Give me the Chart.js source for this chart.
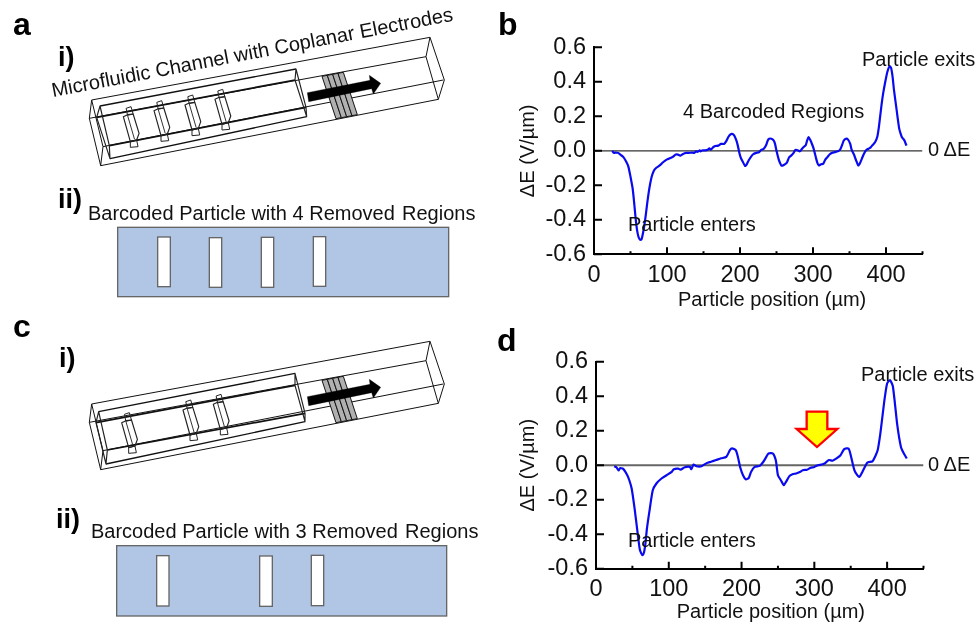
<!DOCTYPE html>
<html>
<head>
<meta charset="utf-8">
<title>Barcoded particle signals</title>
<script src="https://cdn.jsdelivr.net/npm/chart.js@4/dist/chart.umd.min.js"></script>
<style>
  html, body { margin: 0; padding: 0; background: #fff; }
  body { position: relative; width: 977px; height: 627px; overflow: hidden; }
  canvas { position: absolute; }
  #art { position: absolute; left: 0; top: 0; pointer-events: none; }
  #art text { font-family: "Liberation Sans", Arial, sans-serif; font-size: 20px; fill: #111; }
  #art text.big { font-size: 32px; font-weight: bold; fill: #000; }
  #art text.num { font-size: 27px; font-weight: bold; fill: #000; }
</style>
</head>
<body>
<canvas id="chartB" width="487" height="315" style="left:490px;top:0"></canvas>
<canvas id="chartD" width="487" height="312" style="left:490px;top:315px"></canvas>
<svg id="art" width="977" height="627" xmlns="http://www.w3.org/2000/svg"></svg>

<script>
// values
const xTicks = [0, 100, 200, 300, 400];
const yTicks = [-0.6, -0.4, -0.2, 0.0, 0.2, 0.4, 0.6];

const positionB = [25, 27, 30, 33, 37, 40, 44, 47, 50, 53, 55, 57, 59, 61, 63, 65, 67, 69, 71, 73, 75, 77, 79, 82, 85, 90, 95, 100, 103, 108, 112, 115, 118, 122, 126, 130, 134, 137, 140, 142, 145, 146, 148, 152, 156, 158, 160, 163, 166, 170, 174, 178, 181, 184, 187, 189, 192, 195, 197, 199, 201, 204, 207, 209, 212, 215, 218, 222, 226, 229, 232, 234, 236, 238, 240, 243, 246, 248, 250, 253, 255, 257, 260, 264, 267, 270, 273, 276, 279, 282, 285, 288, 290, 292, 294, 296, 299, 301, 304, 306, 308, 311, 314, 317, 320, 323, 326, 330, 334, 337, 340, 342, 345, 348, 351, 353, 356, 359, 362, 364, 367, 370, 373, 376, 379, 382, 385, 388, 390, 392, 394, 396, 399, 402, 405, 407, 409, 411, 414, 416, 418, 420, 422, 425, 428];
const fieldB = [0, -0.012, -0.01, -0.012, -0.025, -0.035, -0.062, -0.09, -0.15, -0.22, -0.3, -0.39, -0.46, -0.5, -0.515, -0.515, -0.48, -0.43, -0.37, -0.3, -0.24, -0.19, -0.15, -0.115, -0.1, -0.085, -0.065, -0.05, -0.045, -0.035, -0.022, -0.022, -0.028, -0.018, -0.012, -0.012, -0.01, -0.012, -0.003, -0.006, 0.002, -0.004, 0.002, 0.002, 0.006, 0.014, 0.006, 0.02, 0.028, 0.03, 0.04, 0.04, 0.055, 0.08, 0.095, 0.098, 0.09, 0.06, 0.03, -0.01, -0.04, -0.065, -0.088, -0.08, -0.055, -0.035, -0.02, -0.012, -0.008, 0.005, 0.01, 0.02, 0.035, 0.06, 0.07, 0.07, 0.06, 0.04, 0, -0.05, -0.072, -0.086, -0.082, -0.07, -0.04, -0.028, -0.015, 0.005, 0.003, -0.003, 0.012, 0.025, 0.032, 0.06, 0.08, 0.065, 0.035, 0.01, -0.04, -0.07, -0.085, -0.078, -0.075, -0.05, -0.035, -0.02, -0.012, -0.008, -0.003, 0.005, 0.035, 0.058, 0.07, 0.065, 0.04, 0.005, -0.02, -0.055, -0.085, -0.075, -0.045, -0.015, 0.005, 0.012, 0.02, 0.035, 0.05, 0.08, 0.13, 0.2, 0.27, 0.33, 0.4, 0.46, 0.49, 0.48, 0.43, 0.35, 0.255, 0.19, 0.13, 0.1, 0.077, 0.062, 0.03];

const positionD = [25, 28, 31, 33, 37, 43, 46, 49, 53, 57, 60, 62, 64, 66, 68, 70, 74, 78, 83, 90, 97, 104, 107, 113, 116, 122, 129, 131, 134, 138, 145, 152, 158, 165, 172, 179, 184, 187, 192, 195, 198, 202, 206, 210, 213, 218, 225, 230, 234, 237, 243, 247, 250, 254, 258, 261, 266, 270, 275, 280, 284, 290, 295, 300, 305, 310, 314, 320, 325, 330, 336, 341, 347, 350, 355, 359, 362, 366, 373, 380, 387, 391, 396, 400, 404, 408, 414, 419, 423, 427];
const fieldD = [-0.006, -0.012, -0.03, -0.018, -0.02, -0.058, -0.09, -0.135, -0.25, -0.387, -0.484, -0.51, -0.522, -0.505, -0.45, -0.367, -0.25, -0.145, -0.106, -0.077, -0.058, -0.039, -0.023, -0.02, -0.026, -0.012, -0.01, -0.023, 0.004, -0.006, -0.006, 0.012, 0.02, 0.03, 0.04, 0.048, 0.087, 0.097, 0.087, 0.048, -0.01, -0.058, -0.083, -0.073, -0.039, -0.01, -0.004, 0.02, 0.048, 0.068, 0.068, 0.03, -0.058, -0.087, -0.116, -0.097, -0.062, -0.052, -0.048, -0.04, -0.029, -0.026, -0.015, -0.01, 0, 0.004, 0.01, 0.03, 0.026, 0.038, 0.058, 0.093, 0.097, 0.058, -0.029, -0.058, -0.068, -0.039, 0.015, 0.023, 0.087, 0.193, 0.367, 0.474, 0.493, 0.455, 0.232, 0.106, 0.068, 0.039];

const yTitle = 'ΔE (V/µm)';
const xTitle = 'Particle position (µm)';
const font = '"Liberation Sans", Arial, sans-serif';

// ticks point into the plot in the original, chart.js only draws them outward
const inwardTicks = {
  id: 'inwardTicks',
  afterDatasetsDraw(chart) {
    const { ctx, scales: { x, y } } = chart;
    ctx.save();
    ctx.strokeStyle = '#000';
    ctx.lineWidth = 2;
    ctx.beginPath();
    y.ticks.forEach(t => {
      const py = y.getPixelForValue(t.value);
      ctx.moveTo(x.left, py);
      ctx.lineTo(x.left + 8, py);
    });
    x.ticks.forEach(t => {
      const px = x.getPixelForValue(t.value);
      const len = xTicks.includes(t.value) ? 7 : 3;
      ctx.moveTo(px, y.bottom);
      ctx.lineTo(px, y.bottom - len);
    });
    ctx.stroke();
    ctx.restore();
  }
};

function makeChart(id, xs, ys, box, zeroColor, zeroWidth, titleShift) {
  const canvas = document.getElementById(id);
  return new Chart(canvas, {
    type: 'line',
    data: {
      datasets: [
        {
          data: xs.map((v, i) => ({ x: v, y: ys[i] })),
          borderColor: '#0a0aee',
          borderWidth: 2.2,
          pointRadius: 0,
          tension: 0.2
        },
        {
          data: [{ x: 0, y: 0 }, { x: 450, y: 0 }],
          borderColor: zeroColor,
          borderWidth: zeroWidth,
          pointRadius: 0,
          order: 1
        }
      ]
    },
    options: {
      responsive: false,
      animation: false,
      layout: { padding: { top: box.top, right: canvas.width - box.right, left: 0, bottom: 0 } },
      plugins: { legend: { display: false }, tooltip: { enabled: false } },
      scales: {
        x: {
          type: 'linear',
          min: 0,
          max: 450,
          afterFit(s) {
            s.height = canvas.height - box.bottom;
            s.paddingLeft = s.paddingRight = 0;
          },
          grid: { display: false, drawTicks: false },
          border: { display: true, color: '#000', width: 2 },
          ticks: {
            stepSize: 50,
            autoSkip: false,
            maxRotation: 0,
            padding: 7,
            color: '#111',
            font: { family: font, size: 23.5 },
            callback: v => xTicks.includes(v) ? String(v) : ''
          },
          title: {
            display: true,
            text: '\u00a0'.repeat(titleShift) + xTitle,
            color: '#111',
            font: { family: font, size: 20 },
            padding: { top: 0, bottom: 3 }
          }
        },
        y: {
          min: yTicks[0],
          max: yTicks[yTicks.length - 1],
          afterFit(s) {
            s.width = box.left;
            s.paddingTop = s.paddingBottom = 0;
          },
          grid: { display: false, drawTicks: false },
          border: { display: true, color: '#000', width: 2 },
          ticks: {
            stepSize: 0.2,
            padding: 8,
            color: '#111',
            font: { family: font, size: 23.5 },
            callback: v => (Math.abs(v) < 1e-9 ? 0 : v).toFixed(1)
          },
          title: {
            display: true,
            text: yTitle,
            color: '#111',
            font: { family: font, size: 20 },
            padding: { top: 26, bottom: 0 }
          }
        }
      }
    },
    plugins: [inwardTicks]
  });
}

makeChart('chartB', positionB, fieldB, { left: 104, right: 432.5, top: 47.3, bottom: 254.3 }, '#333', 1.3, 5);
makeChart('chartD', positionD, fieldD, { left: 106, right: 433.5, top: 46.7, bottom: 253.7 }, '#666', 2, 4);

// schematics, drawn at 3x and scaled down
const line = (p, w = 3, c = '#111') => `<polyline points="${p.join(' ')}" fill="none" stroke="${c}" stroke-width="${w}" stroke-linejoin="round"/>`;
const poly = (p, fill, stroke, w = 3) => `<polygon points="${p.join(' ')}" fill="${fill}" stroke="${stroke}" stroke-width="${w}" stroke-linejoin="round"/>`;

function bar(x, y) {
  const p = (a, b) => (x + a * 1.05) + ',' + (y + b);
  return poly([p(8, 5), p(22, 0), p(28, 22), p(12, 26)], 'none', '#222', 3) +
    poly([p(20, 105), p(38, 100), p(42, 120), p(20, 122)], 'none', '#222', 3) +
    poly([p(0, 30), p(12, 24), p(28, 22), p(45, 80), p(38, 100), p(20, 105)], 'none', '#222', 3.5) +
    line([p(12, 26), p(32, 98)], 3, '#333');
}

function channel(dy, inner, bars) {
  const o = (a, b) => a + ',' + (b + dy);
  let s = '';
  // outer channel
  s += line([o(275, 300), o(1290, 112)], 3);
  s += line([o(268, 355), o(1278, 170)], 3);
  s += line([o(302, 497), o(1315, 298)], 3);
  s += line([o(309, 440), o(1330, 240)], 3);
  s += poly([o(275, 300), o(268, 355), o(302, 497), o(309, 440)], 'none', '#111');
  s += poly([o(1290, 112), o(1278, 170), o(1315, 298), o(1333, 240)], 'none', '#111');
  // inner box
  s += line([inner[0], inner[1]], 4);
  s += line([inner[2], inner[3]], 5);
  s += line([inner[4], inner[5]], 5);
  s += line([inner[6], inner[7]], 4);
  s += poly([inner[0], inner[2], inner[6], inner[4]], 'none', '#222', 3.5);
  s += poly([inner[1], inner[3], inner[7], inner[5]], 'none', '#222', 3.5);
  bars.forEach(b => { s += bar(b[0], b[1]); });
  // electrodes
  [0, 1, 2, 3].forEach(k => {
    const x0 = 966 + k * 16;
    const top = 229 - k * 3;
    const bot = 356 - k * 3;
    s += poly([o(x0, top), o(x0 + 16, top - 3), o(x0 + 58, bot - 3), o(x0 + 42, bot)], '#b0b0b0', '#111', 3);
  });
  // flow arrow
  s += poly([o(922, 278), o(1110, 241), o(1108, 226), o(1142, 250), o(1120, 282), o(1115, 266), o(926, 305)], '#000', '#000', 1);
  return s;
}

function particle(r, slots) {
  let s = `<rect x="${r[0]}" y="${r[1]}" width="${r[2]}" height="${r[3]}" fill="#b1c5e5" stroke="#666" stroke-width="4"/>`;
  slots.forEach(k => {
    s += `<rect x="${k[0]}" y="${k[1]}" width="${k[2]}" height="${k[3]}" fill="#fff" stroke="#666" stroke-width="4"/>`;
  });
  return s;
}

const innerA = ['300,318', '888,207', '290,352', '885,240', '328,437', '918,322', '330,476', '920,350'];
const innerC = ['296,305', '885,190', '288,338', '885,226', '322,420', '915,310', '318,462', '915,335'];

const art = document.getElementById('art');
art.innerHTML = `
  <g transform="scale(0.33333)">
    ${channel(0, innerA, [[370, 320], [462, 302], [555, 285], [645, 268]])}
    ${particle([353, 682, 993, 208], [[473, 711, 38, 149], [628, 713, 37, 149], [784, 712, 37, 150], [940, 710, 37, 149]])}
  </g>
  <g transform="translate(0,310) scale(0.33333)">
    ${channel(-18, innerC, [[365, 308], [549, 270], [640, 253]])}
    ${particle([350, 707, 990, 211], [[470, 737, 37, 151], [779, 738, 38, 151], [934, 736, 37, 151]])}
  </g>
  <g transform="translate(490,315) scale(0.33333)">
    <polygon points="950,290 1012,290 1012,342 1042,342 981,396 920,342 950,342" fill="#ffff00" stroke="#ff0000" stroke-width="7"/>
  </g>

  <text class="big" x="13" y="35">a</text>
  <text class="big" x="498" y="35">b</text>
  <text class="big" x="13" y="337">c</text>
  <text class="big" x="497" y="351">d</text>

  <text class="num" x="58" y="66">i)</text>
  <text class="num" x="58" y="208">ii)</text>
  <text class="num" x="59" y="367">i)</text>
  <text class="num" x="56" y="528">ii)</text>

  <text transform="translate(53,97) rotate(-10.8)">Microfluidic Channel with Coplanar Electrodes</text>
  <text x="88" y="220">Barcoded Particle with 4 Removed</text>
  <text x="402" y="220">Regions</text>
  <text x="91" y="538">Barcoded Particle with 3 Removed</text>
  <text x="405" y="538">Regions</text>

  <text x="862" y="66">Particle exits</text>
  <text x="683" y="118">4 Barcoded Regions</text>
  <text x="628" y="231">Particle enters</text>
  <text x="928" y="156">0 ΔE</text>

  <text x="861" y="381">Particle exits</text>
  <text x="628" y="547">Particle enters</text>
  <text x="928" y="471">0 ΔE</text>
`;
</script>
</body>
</html>
